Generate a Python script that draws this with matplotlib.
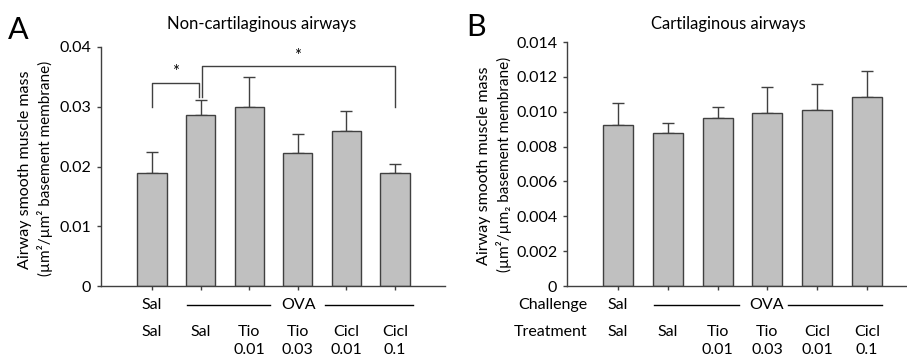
import matplotlib
matplotlib.use("Agg")
import matplotlib.pyplot as plt
import numpy as np

plt.rcParams['font.family'] = ['Lato', 'DejaVu Sans']

treat_top = ["Sal", "Sal", "Tio", "Tio", "Cicl", "Cicl"]
treat_dose = ["", "", "0.01", "0.03", "0.01", "0.1"]

a_vals = [0.0189, 0.0287, 0.0300, 0.0222, 0.0260, 0.0189]
a_errs = [0.0036, 0.0024, 0.0050, 0.0033, 0.0033, 0.0015]
b_vals = [0.00923, 0.00877, 0.00964, 0.00994, 0.01011, 0.01084]
b_errs = [0.00125, 0.00056, 0.00065, 0.00150, 0.00148, 0.00150]

a_yticks = [0, 0.01, 0.02, 0.03, 0.04]
a_yticklabels = ["0", "0.01", "0.02", "0.03", "0.04"]
b_yticks = [0, 0.002, 0.004, 0.006, 0.008, 0.010, 0.012, 0.014]
b_yticklabels = ["0", "0.002", "0.004", "0.006", "0.008", "0.010", "0.012", "0.014"]

W, H = 907, 357
fig = plt.figure(figsize=(W/100, H/100), dpi=100)

edge = "#404040"
fill = "#c0c0c0"

def fx(px):
    return px / W
def fy(py):
    return 1 - py / H

axA = fig.add_axes([fx(101), fy(286), fx(445) - fx(101), fy(47) - fy(286)])
axB = fig.add_axes([fx(567), fy(286), fx(906) - fx(567), fy(42) - fy(286)])

def style(ax, vals, errs, xlim, ylim, yticks, yticklabels):
    x = np.arange(len(vals))
    ax.bar(x, vals, width=0.6, color=fill, edgecolor=edge, linewidth=1.0, zorder=2)
    ax.errorbar(x, vals, yerr=[np.zeros(len(errs)), errs], fmt='none',
                ecolor=edge, elinewidth=1.0, capsize=4, capthick=1.0, zorder=1)
    ax.set_xlim(*xlim)
    ax.set_ylim(*ylim)
    ax.set_yticks(yticks)
    ax.set_yticklabels(yticklabels, fontsize=11.5)
    ax.set_xticks(x)
    ax.set_xticklabels([])
    for s in ["top", "right"]:
        ax.spines[s].set_visible(False)
    for s in ["left", "bottom"]:
        ax.spines[s].set_color(edge)
        ax.spines[s].set_linewidth(1.0)
    ax.tick_params(axis='y', direction='out', length=3, width=1, color=edge, pad=4)
    ax.tick_params(axis='x', direction='out', length=3, width=1, color=edge)
    ax.patch.set_alpha(0)

style(axA, a_vals, a_errs, (-1.05, 6.03), (0, 0.04), a_yticks, a_yticklabels)
style(axB, b_vals, b_errs, (-1.02, 5.78), (0, 0.014), b_yticks, b_yticklabels)

# Titles and panel letters
fig.text(fx(262), fy(24), "Non-cartilaginous airways", ha='center', va='center', fontsize=12)
fig.text(fx(728), fy(24), "Cartilaginous airways", ha='center', va='center', fontsize=12)
fig.text(fx(8), fy(30), "A", ha='left', va='center', fontsize=22)
fig.text(fx(466), fy(27), "B", ha='left', va='center', fontsize=22)

# Y labels
fig.text(fx(25), fy(170), "Airway smooth muscle mass", rotation=90, ha='center', va='center', fontsize=11.5)
fig.text(fx(45), fy(168), "(µm²/µm² basement membrane)", rotation=90, ha='center', va='center', fontsize=11)
fig.text(fx(484), fy(166), "Airway smooth muscle mass", rotation=90, ha='center', va='center', fontsize=11.5)
fig.text(fx(504), fy(164), "(µm²/µm₂ basement membrane)", rotation=90, ha='center', va='center', fontsize=11)

# Significance brackets in panel A (data coordinates)
bk = dict(color=edge, linewidth=1.0, clip_on=False)
axA.plot([0, 0, 0.97, 0.97], [0.0299, 0.0340, 0.0340, 0.0317], **bk)
axA.text(0.48, 0.0344, "*", ha='center', va='bottom', fontsize=12)
axA.plot([1.03, 1.03, 5, 5], [0.0317, 0.0368, 0.0368, 0.0299], **bk)
axA.text(3.0, 0.0372, "*", ha='center', va='bottom', fontsize=12)

# Category labels below axes
def cat_labels(ax, row1_y, row2_y, row3_y, line_segs, ova_x):
    trans = ax.get_xaxis_transform()
    ax.text(0, row1_y, "Sal", transform=trans, ha='center', va='center', fontsize=11.5, clip_on=False)
    ax.text(ova_x, row1_y, "OVA", transform=trans, ha='center', va='center', fontsize=11.5, clip_on=False)
    for (x0, x1) in line_segs:
        ax.plot([x0, x1], [row1_y, row1_y], transform=trans, color='black', linewidth=1.0, clip_on=False)
    for i, (t, d) in enumerate(zip(treat_top, treat_dose)):
        ax.text(i, row2_y, t, transform=trans, ha='center', va='center', fontsize=11.5, clip_on=False)
        if d:
            ax.text(i, row3_y, d, transform=trans, ha='center', va='center', fontsize=11.5, clip_on=False)

def ry(ax, py):
    bb = ax.get_position()
    return (fy(py) - bb.y0) / bb.height

cat_labels(axA, ry(axA, 305), ry(axA, 332), ry(axA, 350),
           [((187 - 152) / 48.6, (270 - 152) / 48.6), ((325 - 152) / 48.6, (413 - 152) / 48.6)],
           (299 - 152) / 48.6)
cat_labels(axB, ry(axB, 305), ry(axB, 332), ry(axB, 350),
           [((654 - 618) / 49.8, (739 - 618) / 49.8), ((788 - 618) / 49.8, (882 - 618) / 49.8)],
           (767 - 618) / 49.8)
fig.text(fx(587), fy(305), "Challenge", ha='right', va='center', fontsize=11.5)
fig.text(fx(587), fy(332), "Treatment", ha='right', va='center', fontsize=11.5)

fig.savefig("out.png", dpi=100)
